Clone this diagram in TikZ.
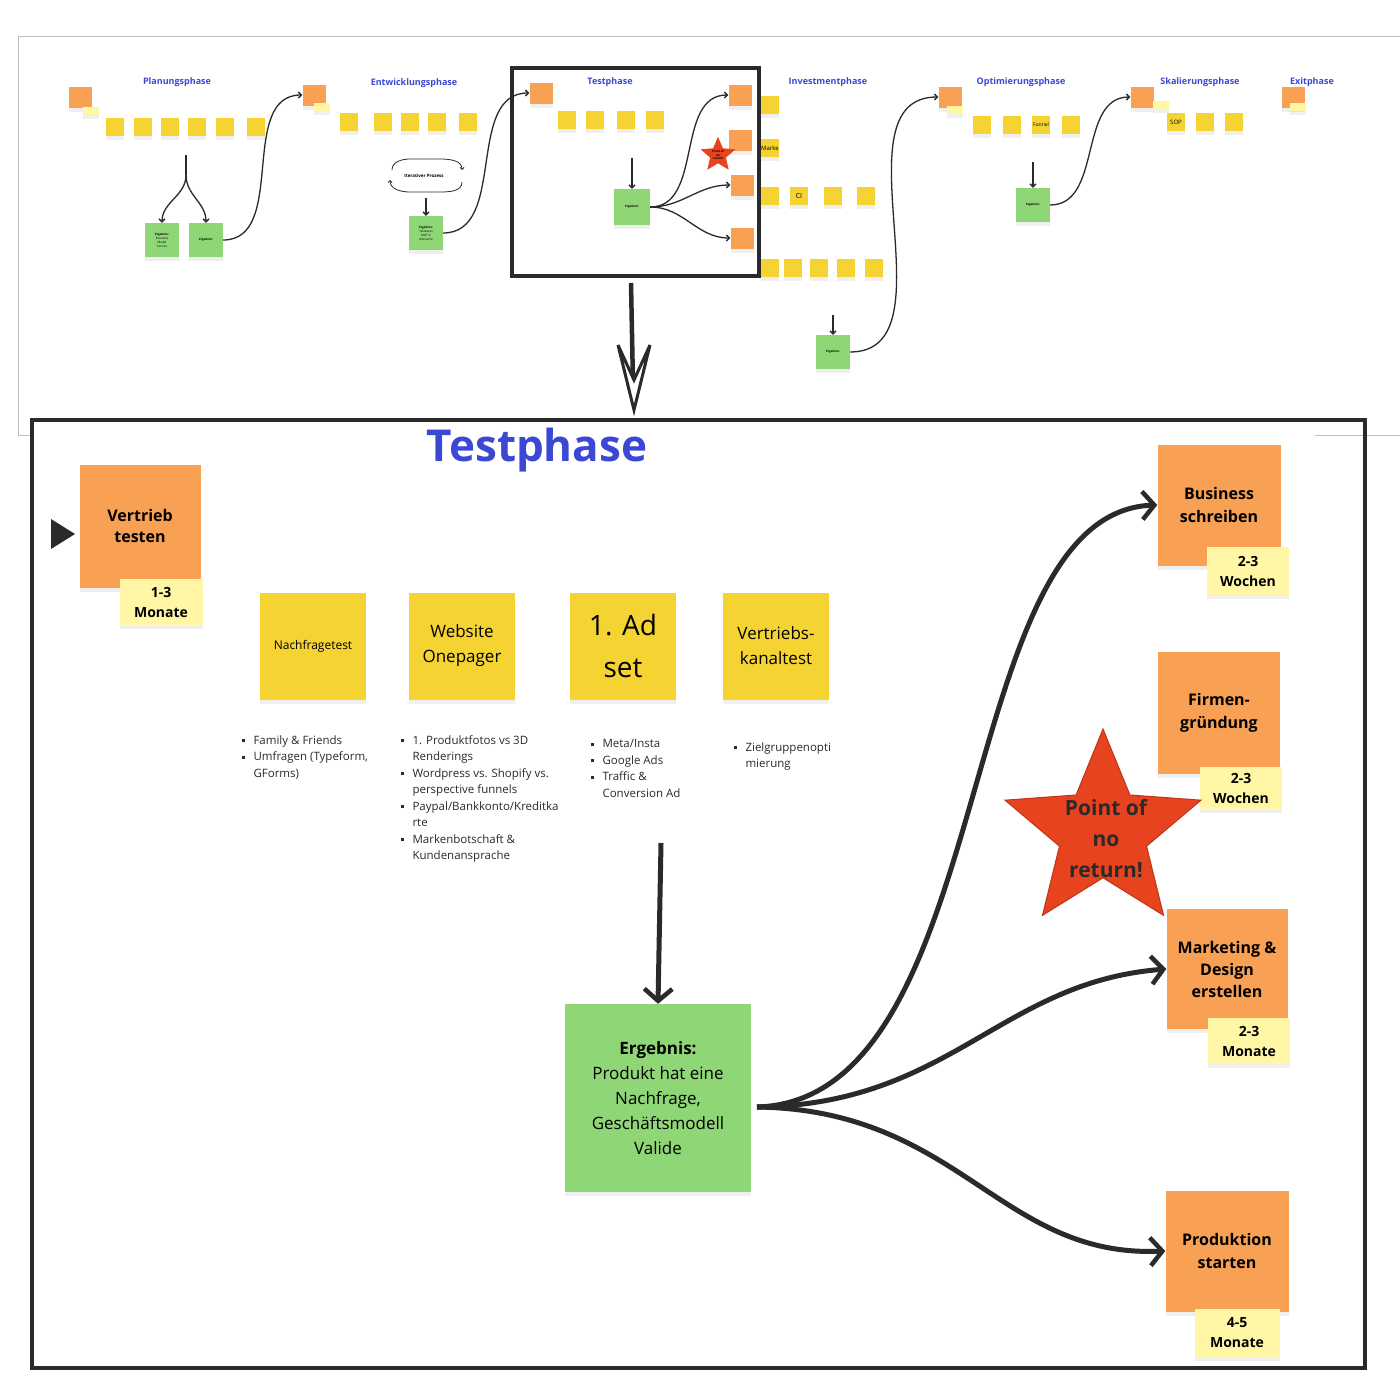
\documentclass[tikz,border=0pt]{standalone}
\usepackage{fontspec}
\setmainfont{Open Sans}
\usetikzlibrary{arrows.meta,shapes.geometric,shadows}
\definecolor{ttl}{HTML}{3A48D4}
\definecolor{org}{HTML}{F8A054}
\definecolor{yel}{HTML}{F5D332}
\definecolor{nte}{HTML}{FFF6A6}
\definecolor{grn}{HTML}{8FD676}
\definecolor{dk}{HTML}{2A2A2A}
\definecolor{starred}{HTML}{E8431F}
\tikzset{
 st/.style={draw=none,align=center,inner sep=2pt,drop shadow={opacity=0.12,shadow xshift=0pt,shadow yshift=-4pt}},
 O/.style={st,fill=org,font=\bfseries},
 Y/.style={st,fill=yel},
 N/.style={st,fill=nte,font=\bfseries},
 G/.style={st,fill=grn},
 cur/.style={draw=dk,line width=5pt,-{Straight Barb[length=12pt,width=28pt,line width=4.5pt]}},
 scur/.style={draw=dk,line width=1.3pt,-{Straight Barb[length=3pt,width=6pt]}},
 phase/.style={text=ttl,font=\bfseries\fontsize{9}{10}\selectfont},
 bl/.style={align=left,anchor=north west,font=\fontsize{11.5}{16.5}\selectfont,text=dk},
}
\newcommand{\bp}{\makebox[12pt][l]{\raisebox{2pt}{\rule{3pt}{3pt}}}}
\newcommand{\ind}{\hspace*{12pt}}
\begin{document}
\begin{tikzpicture}[x=1pt,y=-1pt]
\useasboundingbox (0,0) rectangle (1400,1400);
\fill[white] (0,0) rectangle (1400,1400);
% overview frame lines
\draw[gray!50,line width=0.8pt] (18,435) -- (18,36) -- (1400,36);
\draw[gray!50,line width=0.8pt] (1315,435) -- (1400,435);
\draw[gray!50,line width=0.8pt] (18,435) -- (32,435);
% phase titles
\node[phase] (p1) at (177,82) {Planungsphase};
\node[phase] (p2) at (414,83) {Entwicklungsphase};
\node[phase] (p3) at (610,82) {Testphase};
\node[phase] (p4) at (828,82) {Investmentphase};
\node[phase] (p5) at (1021,82) {Optimierungsphase};
\node[phase] (p6) at (1200,82) {Skalierungsphase};
\node[phase] (p7) at (1312,82) {Exitphase};
% small stickies
\tikzset{so/.style={O,minimum width=23pt,minimum height=21pt,inner sep=0pt,font=\bfseries\fontsize{2.5}{3}\selectfont},
 sy/.style={Y,minimum width=18pt,minimum height=18pt,inner sep=0pt,font=\fontsize{2.5}{3}\selectfont},
 sn/.style={N,minimum width=16pt,minimum height=8pt,inner sep=0pt,font=\bfseries\fontsize{2.5}{3}\selectfont},
 sg/.style={G,minimum width=34pt,minimum height=34pt,inner sep=0pt,font=\fontsize{3}{4}\selectfont}}
% Planung
\node[so] (a1) at (80,97) {};
\node[sn] (a1n) at (91,111) {};
\foreach \x/\n in {115/b1,143/b2,170/b3,197/b4,225/b5,256/b6} \node[sy] (\n) at (\x,127) {};
\node[sg] (g1) at (162,240) {\textbf{Ergebnis:}\\Business\\Model\\Canvas};
\node[sg] (g2) at (206,240) {\textbf{Ergebnis:}};
\coordinate (fk) at (186,175);
\draw[scur] (fk) to[out=-90,in=90] (g1.north);
\draw[scur] (fk) to[out=-90,in=90] (g2.north);
\draw[dk,line width=1.3pt] (fk) -- (186,155);
% Entwicklung
\node[so] (e0) at (314,95) {};
\node[sn] (e0n) at (322,107) {};
\foreach \x/\n in {349/c1,383/c2,410/c3,437/c4,468/c5} \node[sy] (\n) at (\x,122) {};
\node[font=\bfseries\fontsize{4.5}{5}\selectfont] (it) at (424,176) {Iterativer Prozess};
\draw[dk,line width=0.8pt,-{Straight Barb[length=2pt,width=4pt]}] (392,170) to[out=90,in=180] (410,159) -- (440,159) to[out=0,in=90] (462,170);
\draw[dk,line width=0.8pt,-{Straight Barb[length=2pt,width=4pt]}] (462,182) to[out=-90,in=0] (440,192) -- (410,192) to[out=180,in=-90] (390,180);
\node[sg] (g3) at (426,233) {\textbf{Ergebnis:}\\Testbares\\MVP in\\Kleinserie};
\draw[scur] (426,198) -- (g3.north);
\draw[scur] (g2.east) to[out=0,in=180] (e0.west);
% Test mini
\node[so] (t0) at (541,93) {};
\foreach \x/\n in {567/d1,595/d2,626/d3,655/d4} \node[sy] (\n) at (\x,120) {};
\node[sg,minimum width=36pt,minimum height=36pt] (g4) at (632,207) {\textbf{Ergebnis:}};
\draw[scur] (632,158) -- (g4.north);
\node[so] (r1) at (740,95) {};
\node[so] (r2) at (740,140) {};
\node[so] (r3) at (742,185) {};
\node[so] (r4) at (742,238) {};
\node[star,star points=5,star point ratio=2.2,fill=starred,minimum size=34pt,inner sep=0pt,font=\bfseries\fontsize{3}{3.5}\selectfont,align=center] (sm) at (718,155) {Point of\\no\\return!};
\draw[scur] (g3.east) to[out=0,in=180] (t0.west);
\draw[scur] (g4.east) to[out=0,in=180] (r1.west);
\draw[scur] (g4.east) to[out=0,in=180] (r3.west);
\draw[scur] (g4.east) to[out=0,in=180] (r4.west);
\draw[dk,line width=4pt] (512,68) rectangle (759,276);
% Investment
\node[sy] (i1) at (770,105) {};
\node[sy,font=\fontsize{6}{7}\selectfont] (i2) at (770,148) {Marke};
\node[sy] (i3) at (770,196) {};
\node[sy,font=\fontsize{7}{8}\selectfont] (i4) at (799,196) {CI};
\node[sy] (i5) at (833,196) {};
\node[sy] (i6) at (866,196) {};
\foreach \x/\n in {770/j1,793/j2,819/j3,846/j4,874/j5} \node[sy] (\n) at (\x,268) {};
\node[sg] (g5) at (833,352) {\textbf{Ergebnis:}};
\draw[scur] (833,315) -- (g5.north);
% Optimierung
\node[so] (o0) at (950,97) {};
\node[sn] (o0n) at (955,110) {};
\foreach \x/\n in {982/k1,1012/k2,1071/k4} \node[sy] (\n) at (\x,125) {};
\node[sy,font=\fontsize{5}{6}\selectfont] (k3) at (1041,125) {Funnel};
\node[sg] (g6) at (1033,205) {\textbf{Ergebnis:}};
\draw[scur] (1033,162) -- (g6.north);
\draw[scur] (g5.east) to[out=0,in=180] (o0.west);
% Skalierung
\node[so] (s0) at (1142,97) {};
\node[sn] (s0n) at (1161,105) {};
\node[sy,font=\fontsize{6}{7}\selectfont] (l1) at (1176,122) {SOP};
\node[sy] (l2) at (1205,122) {};
\node[sy] (l3) at (1234,122) {};
\draw[scur] (g6.east) to[out=0,in=180] (s0.west);
% Exit
\node[so] (x0) at (1293,97) {};
\node[sn] (x0n) at (1298,107) {};
% big arrow
\draw[dk,line width=4.5pt] (631,283) -- (633,385);
\draw[dk,line width=3pt,fill=white,line join=miter] (618,345) -- (634,410) -- (650,345) -- (634,380) -- cycle;
% ===== main frame =====
\draw[dk,line width=4pt] (32,420) rectangle (1365,1368);
\node[text=ttl,font=\bfseries\fontsize{44}{50}\selectfont] (T) at (537,450) {Testphase};
\fill[dk] (51,519) -- (75,534) -- (51,549) -- cycle;
\node[O,minimum width=121pt,minimum height=123pt,font=\bfseries\fontsize{16}{21}\selectfont] (vt) at (140,526) {Vertrieb\\testen};
\node[N,minimum width=83pt,minimum height=46pt,font=\bfseries\fontsize{14}{20}\selectfont] (vtn) at (161,602) {1-3\\Monate};
\node[Y,minimum width=106pt,minimum height=107pt,font=\fontsize{12}{15}\selectfont] (y1) at (313,646) {Nachfragetest};
\node[Y,minimum width=106pt,minimum height=107pt,font=\fontsize{17}{25}\selectfont] (y2) at (462,646) {Website\\Onepager};
\node[Y,minimum width=106pt,minimum height=107pt,font=\fontsize{28}{42}\selectfont] (y3) at (623,646) {1. Ad\\set};
\node[Y,minimum width=106pt,minimum height=107pt,font=\fontsize{17}{25}\selectfont] (y4) at (776,646) {Vertriebs-\\kanaltest};
\node[bl] (l1b) at (238,732) {\bp Family \& Friends\\\bp Umfragen (Typeform,\\\ind GForms)};
\node[bl] (l2b) at (397,732) {\bp 1. Produktfotos vs 3D\\\ind Renderings\\\bp Wordpress vs. Shopify vs.\\\ind perspective funnels\\\bp Paypal/Bankkonto/Kreditka\\\ind rte\\\bp Markenbotschaft \&\\\ind Kundenansprache};
\node[bl] (l3b) at (587,736) {\bp Meta/Insta\\\bp Google Ads\\\bp Traffic \&\\\ind Conversion Ad};
\node[bl] (l4b) at (730,739) {\bp Zielgruppenopti\\\ind mierung};
\node[G,minimum width=186pt,minimum height=188pt,font=\fontsize{17}{25}\selectfont] (erg) at (658,1098) {\textbf{Ergebnis:}\\Produkt hat eine\\Nachfrage,\\Geschäftsmodell\\Valide};
\draw[cur] (661,843) -- (erg.north);
% right stickies
\node[O,minimum width=123pt,minimum height=121pt,font=\bfseries\fontsize{16}{23}\selectfont] (bs) at (1219,505) {Business\\schreiben};
\node[N,minimum width=82pt,minimum height=48pt,font=\bfseries\fontsize{14}{20}\selectfont] (bsn) at (1248,571) {2-3\\Wochen};
\node[O,minimum width=122pt,minimum height=122pt,font=\bfseries\fontsize{16}{23}\selectfont] (fg) at (1219,713) {Firmen-\\gründung};
\node[N,minimum width=82pt,minimum height=42pt,font=\bfseries\fontsize{14}{20}\selectfont] (fgn) at (1241,788) {2-3\\Wochen};
\node[star,star points=5,star point ratio=2.25,fill=starred,draw=starred!80!black,line width=1pt,minimum size=206pt,inner sep=0pt] (star) at (1103,832) {};
\node[font=\bfseries\fontsize{21}{31}\selectfont,align=center,text=dk] (stt) at (1106,839) {Point of\\no\\return!};
\node[O,minimum width=121pt,minimum height=120pt,font=\bfseries\fontsize{16}{22}\selectfont] (md) at (1227,969) {Marketing \&\\Design\\erstellen};
\node[N,minimum width=82pt,minimum height=46pt,font=\bfseries\fontsize{14}{20}\selectfont] (mdn) at (1249,1041) {2-3\\Monate};
\node[O,minimum width=123pt,minimum height=121pt,font=\bfseries\fontsize{16}{23}\selectfont] (ps) at (1227,1251) {Produktion\\starten};
\node[N,minimum width=85pt,minimum height=48pt,font=\bfseries\fontsize{14}{20}\selectfont] (psn) at (1237,1333) {4-5\\Monate};
% curves
\coordinate (src) at (757,1107);
\draw[cur] (src) .. controls (1000,1100) and (950,512) .. (bs.west);
\draw[cur] (src) .. controls (950,1105) and (1000,982) .. (md.west);
\draw[cur] (src) .. controls (960,1110) and (1000,1258) .. (ps.west);
\end{tikzpicture}
\end{document}
